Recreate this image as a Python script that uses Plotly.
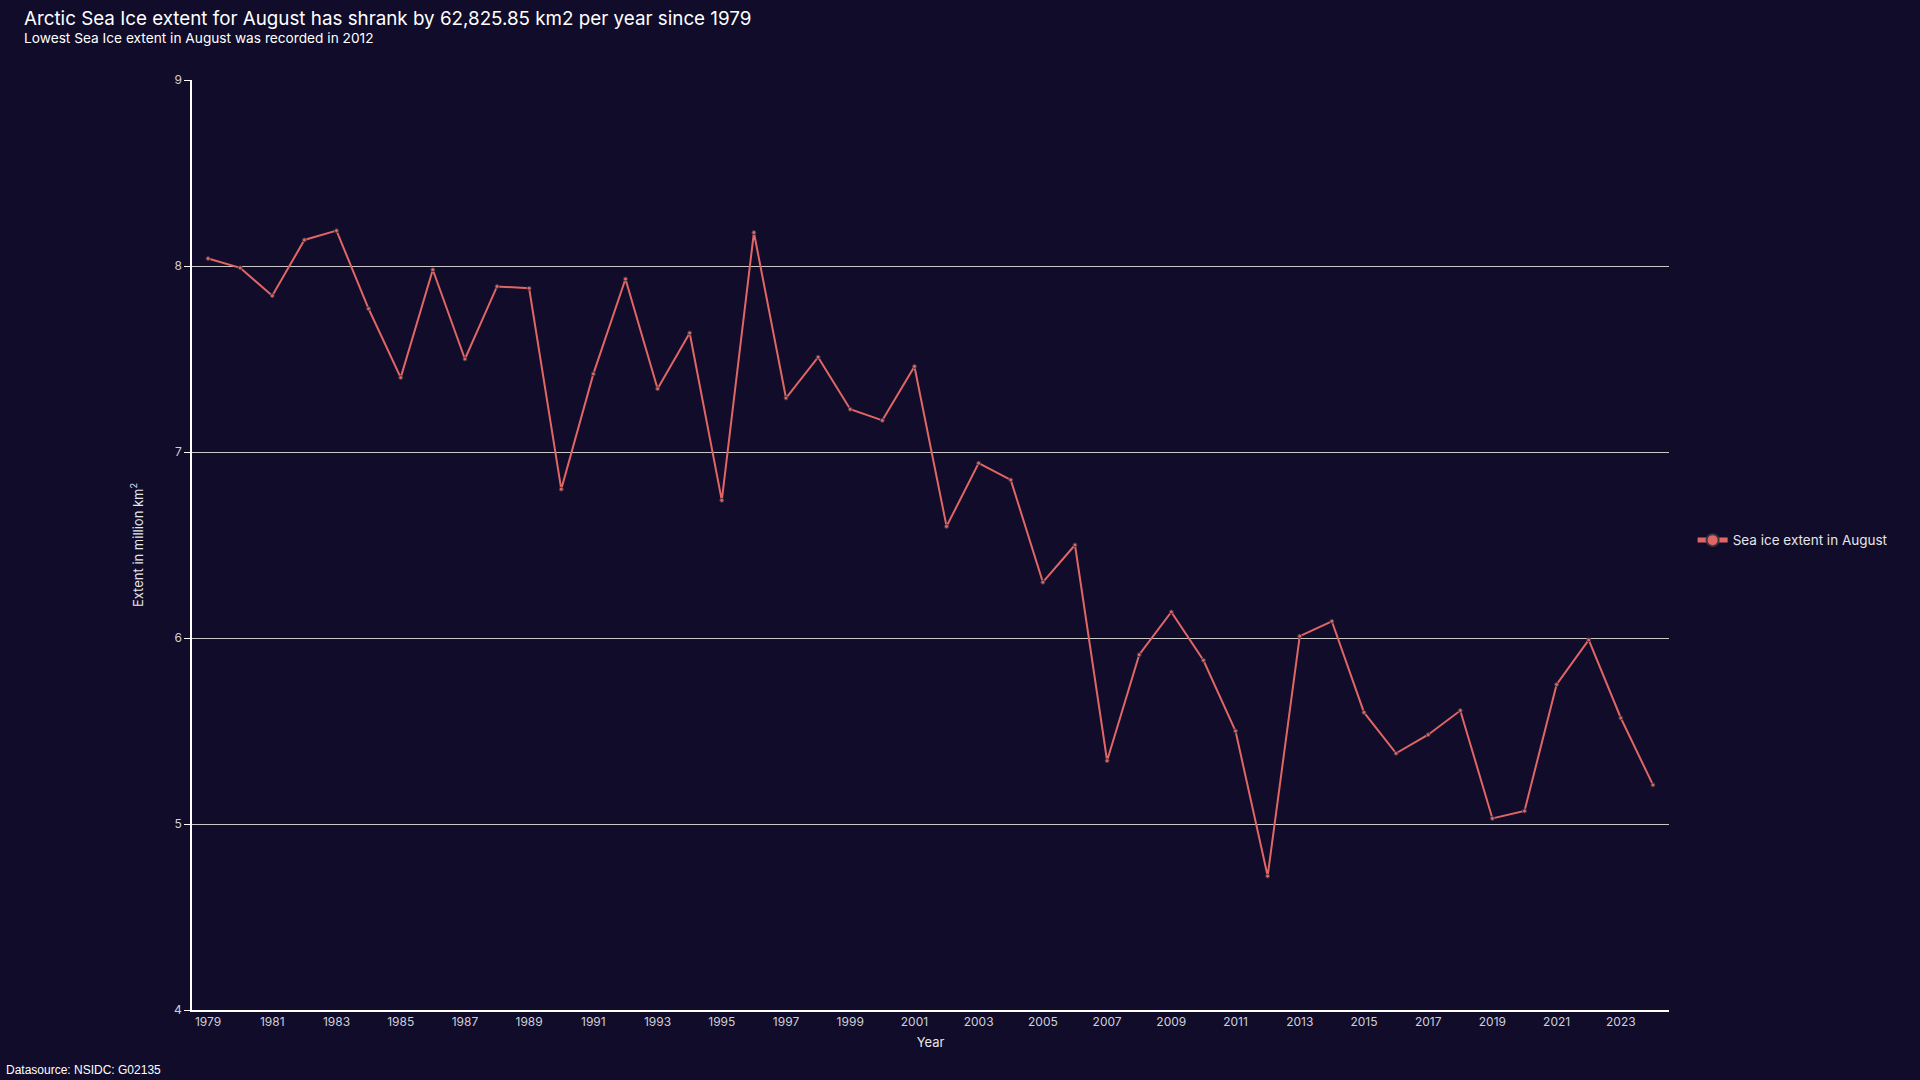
import plotly.graph_objects as go

years = list(range(1979, 2025))
extent = [8.04, 7.99, 7.84, 8.14, 8.19, 7.77, 7.40, 7.98, 7.50, 7.89,
          7.88, 6.80, 7.42, 7.93, 7.34, 7.64, 6.74, 8.18, 7.29, 7.51,
          7.23, 7.17, 7.46, 6.60, 6.94, 6.85, 6.30, 6.50, 5.34, 5.91,
          6.14, 5.88, 5.50, 4.72, 6.01, 6.09, 5.60, 5.38, 5.48, 5.61,
          5.03, 5.07, 5.75, 5.99, 5.57, 5.21]
series_name = "Sea ice extent in August"
title_text = "Arctic Sea Ice extent for August has shrank by 62,825.85 km2 per year since 1979"
subtitle_text = "Lowest Sea Ice extent in August was recorded in 2012"
source_text = "Datasource: NSIDC: G02135"

BG = "#100c2a"
LINE = "#e06666"
FONT = "Inter"

W, H = 1920, 1080
ML, MR, MT, MB = 192, 251, 80, 70
PW, PH = W - ML - MR, H - MT - MB

fig = go.Figure()
fig.add_trace(go.Scatter(
    x=years, y=extent, mode="lines+markers", name=series_name,
    line=dict(color=LINE, width=2),
    marker=dict(color=LINE, size=4, line=dict(color="#3a3540", width=1)),
    showlegend=True,
))

fig.update_layout(
    width=W, height=H,
    paper_bgcolor=BG, plot_bgcolor=BG,
    font=dict(family=FONT, color="#dcdcdc", size=12),
    margin=dict(l=ML, r=MR, t=MT, b=MB),
    title=dict(
        text=title_text,
        x=24 / W, xanchor="left", xref="container",
        y=1 - 18 / H, yanchor="middle", yref="container",
        font=dict(family=FONT, size=18.8, color="#ffffff"),
    ),
    legend=dict(
        x=1.016, xanchor="left", y=0.505, yanchor="middle",
        font=dict(family=FONT, size=13.5, color="#e6e6e6"),
        bgcolor="rgba(0,0,0,0)", itemsizing="constant", itemwidth=30,
    ),
    xaxis=dict(
        title=dict(text="Year", font=dict(family=FONT, size=13, color="#e6e6e6"), standoff=10),
        range=[1978.5, 2024.5], tick0=1979, dtick=2,
        showgrid=False, zeroline=False,
        showline=True, linecolor="#ffffff", linewidth=1.5,
        ticks="", tickfont=dict(family=FONT, size=12, color="#d0d0d8"),
    ),
    yaxis=dict(
        title=dict(text="Extent in million km<sup>2</sup>", font=dict(family=FONT, size=13, color="#e6e6e6"), standoff=28),
        range=[4, 9], dtick=1,
        showgrid=True, gridcolor="#c8c8c8", gridwidth=1, zeroline=False,
        showline=True, linecolor="#ffffff", linewidth=1.5,
        ticks="outside", ticklen=6, tickcolor="#ffffff",
        tickfont=dict(family=FONT, size=12, color="#d0d0d8"),
    ),
    annotations=[
        dict(
            text=subtitle_text, xref="paper", yref="paper",
            x=(22 - ML) / PW, xanchor="left", y=1 + (MT - 38) / PH, yanchor="middle",
            showarrow=False,
            font=dict(family=FONT, size=13.7, color="#ffffff"),
        ),
        dict(
            text=source_text, xref="paper", yref="paper",
            x=(4 - ML) / PW, xanchor="left", y=-(MB - 1) / PH, yanchor="bottom",
            showarrow=False,
            font=dict(family="Liberation Sans", size=12, color="#ffffff"),
        ),
    ],
)

fig.write_html(
    "out.html",
    config={"displayModeBar": False},
    post_script="document.body.style.margin='0';document.body.style.overflow='hidden';document.body.style.background='" + BG + "';",
)
